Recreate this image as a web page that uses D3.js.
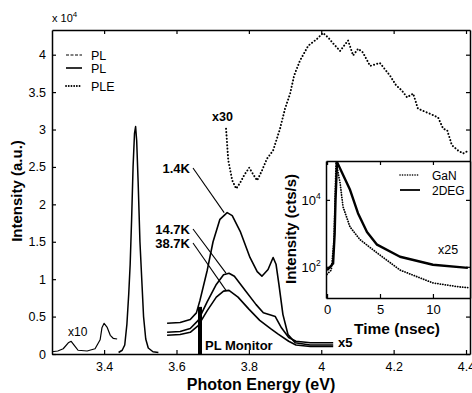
<!DOCTYPE html>
<html>
<head>
<meta charset="utf-8">
<script src="https://cdn.jsdelivr.net/npm/d3@7"></script>
<style>
body{margin:0;background:#fff}
svg{display:block;font-family:"Liberation Sans",Arial,sans-serif}
</style>
</head>
<body>
<div id="container"></div>
<script>
const width = 472, height = 393;

// main panel: photon energy (eV) vs intensity (x 10^4)
const xTicks = [3.4, 3.6, 3.8, 4.0, 4.2, 4.4];
const yTicks = [0, 0.5, 1, 1.5, 2, 2.5, 3, 3.5, 4];

// PL x10, low energy side
const plLow = [[3.256,0.03],[3.272,0.04],[3.287,0.07],[3.301,0.15],[3.309,0.17],[3.317,0.12],[3.328,0.05],
  [3.353,0.04],[3.375,0.07],[3.389,0.19],[3.394,0.35],[3.400,0.41],[3.408,0.36],[3.417,0.25],[3.425,0.21],[3.436,0.20]];
// PL, band edge peak
const plPeak = [[3.440,0.02],[3.450,0.05],[3.457,0.12],[3.463,0.40],[3.468,0.80],[3.472,1.20],[3.476,1.80],
  [3.480,2.50],[3.484,2.95],[3.487,3.04],[3.490,2.85],[3.494,2.30],[3.499,1.50],[3.505,0.90],[3.509,0.50],
  [3.515,0.20],[3.522,0.08],[3.535,0.03],[3.550,0.02]];
// PLE x30
const ple = [[3.737,3.01],[3.743,2.59],[3.754,2.32],[3.765,2.21],[3.776,2.29],[3.787,2.39],[3.801,2.49],
  [3.812,2.40],[3.823,2.32],[3.836,2.45],[3.850,2.61],[3.867,2.72],[3.886,3.01],[3.900,3.28],[3.914,3.48],
  [3.925,3.72],[3.941,3.92],[3.964,4.12],[3.988,4.21],[4.005,4.29],[4.019,4.23],[4.033,4.15],[4.052,4.05],
  [4.074,4.19],[4.088,3.99],[4.102,4.08],[4.115,4.03],[4.135,3.85],[4.162,3.89],[4.190,3.72],[4.207,3.59],
  [4.223,3.52],[4.237,3.43],[4.254,3.48],[4.267,3.28],[4.281,3.25],[4.301,3.21],[4.323,3.16],[4.337,3.01],
  [4.348,2.99],[4.361,2.79],[4.378,2.72],[4.392,2.68],[4.408,2.72]];
// 2DEG PL x5 at three temperatures
const pl14K = [[3.574,0.41],[3.610,0.42],[3.638,0.46],[3.655,0.55],[3.665,0.72],[3.685,1.12],[3.701,1.50],
  [3.720,1.80],[3.740,1.89],[3.754,1.85],[3.776,1.64],[3.803,1.29],[3.823,1.10],[3.836,1.04],[3.853,1.13],
  [3.867,1.29],[3.875,1.20],[3.883,0.93],[3.894,0.53],[3.908,0.26],[3.928,0.15],[3.969,0.12],[4.033,0.12]];
const pl147K = [[3.574,0.29],[3.610,0.30],[3.638,0.34],[3.660,0.45],[3.685,0.70],[3.710,0.93],[3.730,1.06],
  [3.745,1.08],[3.760,1.04],[3.790,0.85],[3.820,0.66],[3.840,0.55],[3.860,0.52],[3.873,0.50],[3.890,0.35],
  [3.910,0.22],[3.930,0.17],[3.970,0.15],[4.033,0.15]];
const pl387K = [[3.574,0.25],[3.610,0.26],[3.638,0.29],[3.660,0.38],[3.685,0.58],[3.710,0.76],[3.730,0.84],
  [3.745,0.85],[3.770,0.76],[3.800,0.60],[3.830,0.45],[3.860,0.34],[3.880,0.27],[3.910,0.17],[3.930,0.12],
  [3.970,0.10],[4.033,0.10]];
const monitor = [3.665, 0.63];

// inset: time (ns) vs intensity (cts/s)
const tTicks = [0, 5, 10];
const iTicks = [1e2, 1e4];
const decayGaN = [[0,60],[0.4,80],[0.66,630],[0.85,135000],[1.23,32000],[1.51,6200],[2.17,1550],[3.11,650],
  [4.72,260],[6.89,80],[10,33],[12.5,25],[13.3,24]];
const decay2DEG = [[0,80],[0.3,100],[0.57,125],[0.72,1000],[0.8,10000],[0.94,135000],[2.17,20000],[2.92,4000],
  [3.77,1100],[4.72,460],[6.89,200],[10,115],[13.3,93]];

const svg = d3.select("#container")
  .append("svg")
    .attr("width", width)
    .attr("height", height);

const x = d3.scaleLinear().domain([3.256, 4.411]).range([52, 470]);
const y = d3.scaleLinear().domain([0, 4.33]).range([354, 30]);
const line = d3.line().x(d => x(d[0])).y(d => y(d[1]));

function styleAxis(g, size) {
  g.select(".domain").attr("stroke-width", 1.5);
  g.selectAll(".tick line").attr("stroke-width", 1.2);
  g.selectAll(".tick text").attr("font-size", size).attr("font-family", "Liberation Sans, Arial, sans-serif");
}

svg.append("g").attr("transform", "translate(0,354)")
  .call(d3.axisBottom(x).tickValues(xTicks).tickSizeInner(-4).tickSizeOuter(0).tickPadding(8).tickFormat(d3.format("")))
  .call(g => styleAxis(g, 12.5));
svg.append("g").attr("transform", "translate(0,30)")
  .call(d3.axisTop(x).tickValues(xTicks).tickSizeInner(-4).tickSizeOuter(0).tickFormat(""))
  .call(g => styleAxis(g, 12));
svg.append("g").attr("transform", "translate(52,0)")
  .call(d3.axisLeft(y).tickValues(yTicks).tickSizeInner(-4).tickSizeOuter(0).tickPadding(6).tickFormat(d3.format("")))
  .call(g => styleAxis(g, 12.5));
svg.append("g").attr("transform", "translate(470,0)")
  .call(d3.axisRight(y).tickValues(yTicks).tickSizeInner(-4).tickSizeOuter(0).tickFormat(""))
  .call(g => styleAxis(g, 12));

// x 10^4
const mult = svg.append("text").attr("x", 52).attr("y", 22).attr("font-size", 11).text("x 10");
mult.append("tspan").attr("dy", -5).attr("font-size", 8).text("4");

svg.append("text")
  .attr("transform", "translate(22,191) rotate(-90)")
  .attr("text-anchor", "middle").attr("font-size", 15).attr("font-weight", "bold")
  .text("Intensity (a.u.)");
svg.append("text")
  .attr("x", 261).attr("y", 390)
  .attr("text-anchor", "middle").attr("font-size", 16).attr("font-weight", "bold")
  .text("Photon Energy (eV)");

// curves
const curves = svg.append("g").attr("fill", "none").attr("stroke", "#000")
  .attr("stroke-linejoin", "round");
curves.append("path").attr("d", line(plLow)).attr("stroke-width", 1.2);
curves.append("path").attr("d", line(plPeak)).attr("stroke-width", 1.5);
curves.selectAll("path.pl5")
  .data([pl14K, pl147K, pl387K])
  .join("path")
    .attr("class", "pl5")
    .attr("stroke-width", 1.6)
    .attr("d", line);
curves.append("path").attr("d", line(ple))
  .attr("stroke-width", 2).attr("stroke-linecap", "round").attr("stroke-dasharray", "0.1,3.2");

// PL monitor bar
svg.append("line")
  .attr("x1", x(monitor[0])).attr("x2", x(monitor[0]))
  .attr("y1", y(monitor[1])).attr("y2", y(0))
  .attr("stroke", "#000").attr("stroke-width", 4);
svg.append("text").attr("x", 205).attr("y", 350)
  .attr("font-size", 13).attr("font-weight", "bold").text("PL Monitor");

// temperature labels with leaders
const tempLabels = [
  {text: "1.4K", ty: 168, series: pl14K},
  {text: "14.7K", ty: 229, series: pl147K},
  {text: "38.7K", ty: 243, series: pl387K}
];
tempLabels.forEach(l => {
  const pk = d3.greatest(l.series, d => d[1]);
  svg.append("text").attr("x", 190).attr("y", l.ty + 4.5)
    .attr("text-anchor", "end").attr("font-size", 13).attr("font-weight", "bold").text(l.text);
  svg.append("line")
    .attr("x1", 193).attr("y1", l.ty)
    .attr("x2", x(pk[0]) - 3).attr("y2", y(pk[1]))
    .attr("stroke", "#000").attr("stroke-width", 1.1);
});

svg.append("text").attr("x", 212).attr("y", 121).attr("font-size", 12.5).attr("font-weight", "bold").text("x30");
svg.append("text").attr("x", 68).attr("y", 336).attr("font-size", 12).text("x10");
svg.append("text").attr("x", 338).attr("y", 347).attr("font-size", 13).attr("font-weight", "bold").text("x5");

// main legend
const legend = svg.append("g");
[["PL", "3,1.5", 1], ["PL", null, 1.6], ["PLE", "0.1,2.6", 1.8]].forEach((d, i) => {
  const ly = [55, 68, 86][i];
  legend.append("line").attr("x1", 66).attr("x2", 82).attr("y1", ly).attr("y2", ly)
    .attr("stroke", "#000").attr("stroke-width", d[2])
    .attr("stroke-linecap", d[1] && d[1].startsWith("0.1") ? "round" : "butt")
    .attr("stroke-dasharray", d[1]);
  legend.append("text").attr("x", 91).attr("y", ly + 4.5).attr("font-size", 12.5).text(d[0]);
});

// inset
const ix = d3.scaleLinear().domain([-0.1, 13.5]).range([326, 470]);
const iy = d3.scaleLog().domain([11.7, 145000]).range([298, 161]);
const iline = d3.line().x(d => ix(d[0])).y(d => iy(d[1]));

const inset = svg.append("g");
inset.append("rect").attr("x", 326).attr("y", 161).attr("width", 144).attr("height", 137)
  .attr("fill", "#fff");
inset.append("clipPath").attr("id", "insetClip")
  .append("rect").attr("x", 326).attr("y", 161).attr("width", 144).attr("height", 137);

inset.append("g").attr("transform", "translate(0,298)")
  .call(d3.axisBottom(ix).tickValues(tTicks).tickSizeInner(-4).tickSizeOuter(0).tickPadding(7))
  .call(g => styleAxis(g, 13));
inset.append("g").attr("transform", "translate(0,161)")
  .call(d3.axisTop(ix).tickValues(tTicks).tickSizeInner(-4).tickSizeOuter(0).tickFormat(""))
  .call(g => styleAxis(g, 12));
inset.append("g").attr("transform", "translate(326,0)")
  .call(d3.axisLeft(iy).tickValues(iTicks).tickSizeInner(-4).tickSizeOuter(0).tickFormat(""))
  .call(g => styleAxis(g, 12));
inset.append("g").attr("transform", "translate(470,0)")
  .call(d3.axisRight(iy).tickValues(iTicks).tickSizeInner(-4).tickSizeOuter(0).tickFormat(""))
  .call(g => styleAxis(g, 12));

iTicks.forEach(v => {
  const t = inset.append("text").attr("x", 316).attr("y", iy(v) + 5)
    .attr("text-anchor", "end").attr("font-size", 13).text("10");
  inset.append("text").attr("x", 316).attr("y", iy(v) - 1)
    .attr("font-size", 8.5).text(Math.round(Math.log10(v)));
});

inset.append("text").attr("x", 397).attr("y", 334)
  .attr("text-anchor", "middle").attr("font-size", 15.5).attr("font-weight", "bold").text("Time (nsec)");
inset.append("text")
  .attr("transform", "translate(296,229) rotate(-90)")
  .attr("text-anchor", "middle").attr("font-size", 15).attr("font-weight", "bold")
  .text("Intensity (cts/s)");

const icurves = inset.append("g").attr("clip-path", "url(#insetClip)")
  .attr("fill", "none").attr("stroke", "#000").attr("stroke-linejoin", "round");
icurves.append("path").attr("d", iline(decayGaN))
  .attr("stroke-width", 1.8).attr("stroke-linecap", "round").attr("stroke-dasharray", "0.1,2.4");
icurves.append("path").attr("d", iline(decay2DEG)).attr("stroke-width", 2.4);

inset.append("line").attr("x1", 400).attr("x2", 420).attr("y1", 175).attr("y2", 175)
  .attr("stroke", "#000").attr("stroke-width", 1.6).attr("stroke-linecap", "round").attr("stroke-dasharray", "0.1,2.4");
inset.append("text").attr("x", 432).attr("y", 179.5).attr("font-size", 12).text("GaN");
inset.append("line").attr("x1", 400).attr("x2", 420).attr("y1", 190).attr("y2", 190)
  .attr("stroke", "#000").attr("stroke-width", 1.8);
inset.append("text").attr("x", 432).attr("y", 194.5).attr("font-size", 12).text("2DEG");
inset.append("text").attr("x", 438).attr("y", 254).attr("font-size", 12.5).text("x25");
</script>
</body>
</html>
